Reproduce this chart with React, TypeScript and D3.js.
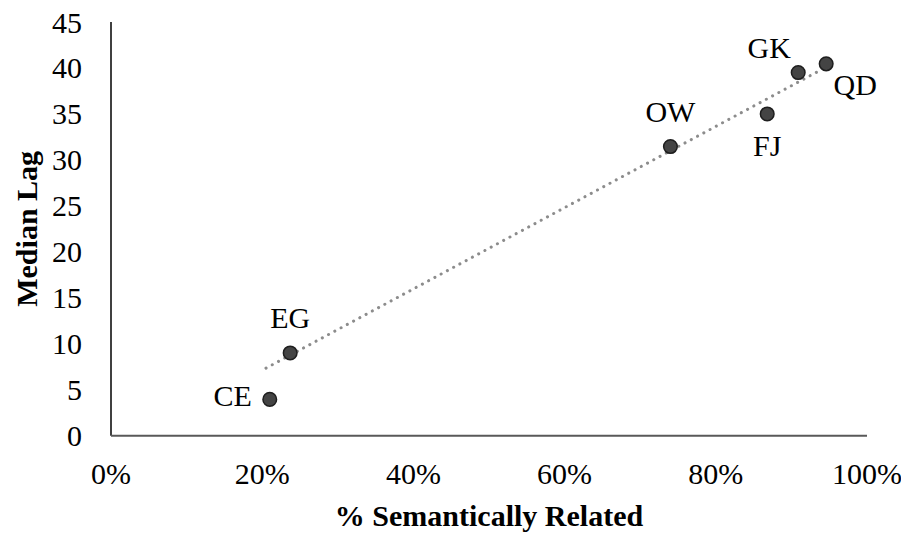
import * as d3 from 'd3';

const names = ['CE', 'EG', 'OW', 'FJ', 'GK', 'QD'];
const pctRelated = [0.21, 0.237, 0.74, 0.868, 0.909, 0.946];
const medianLag = [3.95, 9.0, 31.45, 35.0, 39.5, 40.45];

// trendline (start / end)
const trendX = [0.205, 0.937];
const trendY = [7.35, 39.7];

const xTicks = [0, 0.2, 0.4, 0.6, 0.8, 1];
const yTicks = [0, 5, 10, 15, 20, 25, 30, 35, 40, 45];

const labelPlace: Record<string, string> = {
  CE: 'left',
  EG: 'above',
  OW: 'above',
  FJ: 'below',
  GK: 'aboveLeft',
  QD: 'belowRight',
};

const W = 909;
const H = 536;

const App = () => {
  const x = d3.scaleLinear().domain([0, 1]).range([111, 867]);
  const y = d3.scaleLinear().domain([0, 45]).range([435.7, 22]);
  const fmt = d3.format('.0%');

  const pts = names.map((n, i) => ({ name: n, x: pctRelated[i], y: medianLag[i] }));
  const trend = trendX.map((v, i) => [v, trendY[i]] as [number, number]);
  const line = d3.line<[number, number]>().x(d => x(d[0])).y(d => y(d[1]));

  const labelAttrs = (p: { x: number; y: number; name: string }) => {
    const cx = x(p.x);
    const cy = y(p.y);
    switch (labelPlace[p.name]) {
      case 'left':
        return { x: cx - 18, y: cy + 7, anchor: 'end' };
      case 'above':
        return { x: cx, y: cy - 25, anchor: 'middle' };
      case 'below':
        return { x: cx, y: cy + 42, anchor: 'middle' };
      case 'aboveLeft':
        return { x: cx - 29, y: cy - 15, anchor: 'middle' };
      default:
        return { x: cx + 29, y: cy + 31, anchor: 'middle' };
    }
  };

  const txt = { fontFamily: 'Times New Roman' };

  return (
    <svg width={W} height={H} style={{ display: 'block', margin: '-8px 0 0 -8px', background: '#fff' }}>
      {/* axes */}
      <line x1={x(0)} x2={x(0)} y1={y(45)} y2={y(0)} stroke="#000" strokeWidth={1.5} />
      <line x1={x(0)} x2={x(1)} y1={y(0)} y2={y(0)} stroke="#595959" strokeWidth={2} />

      {yTicks.map(t => (
        <text key={t} x={82} y={y(t)} dy="0.35em" textAnchor="end" fontSize={30} style={txt}>{t}</text>
      ))}
      {xTicks.map(t => (
        <text key={t} x={x(t)} y={484} textAnchor="middle" fontSize={30} style={txt}>{fmt(t)}</text>
      ))}

      <text transform={`translate(37, ${(y(0) + y(45)) / 2}) rotate(-90)`} textAnchor="middle"
        fontSize={30} fontWeight="bold" style={txt}>Median Lag</text>
      <text x={(x(0) + x(1)) / 2} y={526} textAnchor="middle" fontSize={30} fontWeight="bold"
        style={txt}>% Semantically Related</text>

      {/* trendline */}
      <path d={line(trend) || ''} fill="none" stroke="#8c8c8c" strokeWidth={3}
        strokeDasharray="0.1 7" strokeLinecap="round" />

      {pts.map(p => (
        <circle key={p.name} cx={x(p.x)} cy={y(p.y)} r={6.8} fill="#444" stroke="#1e1e1e" strokeWidth={1.5} />
      ))}
      {pts.map(p => {
        const a = labelAttrs(p);
        return (
          <text key={p.name} x={a.x} y={a.y} textAnchor={a.anchor} fontSize={30} style={txt}>{p.name}</text>
        );
      })}
    </svg>
  );
};

export default App;
